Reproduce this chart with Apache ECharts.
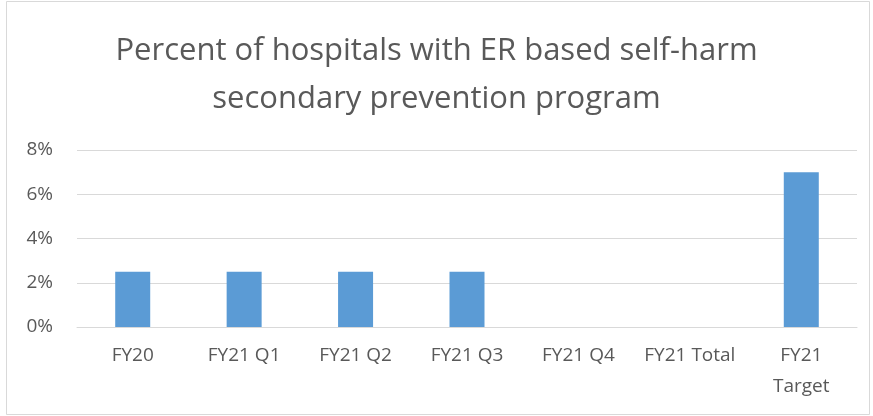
<!DOCTYPE html>
<html>
<head>
<meta charset="utf-8">
<script src="https://cdn.jsdelivr.net/npm/echarts@6/dist/echarts.min.js"></script>
<style>
  html, body { margin: 0; padding: 0; background: #fff; }
  #main { width: 873px; height: 416px; }
</style>
</head>
<body>
<div id="main"></div>
<script>
const categories = ['FY20', 'FY21 Q1', 'FY21 Q2', 'FY21 Q3', 'FY21 Q4', 'FY21 Total', 'FY21\nTarget'];
const values = [0.025, 0.025, 0.025, 0.025, null, null, 0.07];
const yTicks = [0, 0.02, 0.04, 0.06, 0.08];

const chart = echarts.init(document.getElementById('main'), null, { renderer: 'canvas' });

const option = {
  backgroundColor: '#fff',
  animation: false,
  title: {
    text: 'Percent of hospitals with ER based self-harm\nsecondary prevention program',
    left: 'center',
    top: 22,
    textStyle: {
      fontFamily: 'Open Sans',
      fontWeight: 'normal',
      fontSize: 31,
      lineHeight: 48,
      color: '#595959'
    }
  },
  graphic: [{
    type: 'rect',
    shape: { x: 6.5, y: 1.5, width: 863, height: 413 },
    style: { fill: 'none', stroke: '#d9d9d9', lineWidth: 1 },
    silent: true
  }],
  grid: {
    left: 77,
    right: 16,
    top: 150,
    bottom: 89
  },
  xAxis: {
    type: 'category',
    data: categories,
    axisTick: { show: false },
    axisLine: { lineStyle: { color: '#d9d9d9', width: 1 } },
    axisLabel: {
      fontFamily: 'Open Sans',
      fontSize: 19,
      color: '#595959',
      margin: 13,
      lineHeight: 31,
      interval: 0
    }
  },
  yAxis: {
    type: 'value',
    min: yTicks[0],
    max: yTicks[yTicks.length - 1],
    interval: 0.02,
    axisLine: { show: false },
    axisTick: { show: false },
    splitLine: { lineStyle: { color: '#d9d9d9', width: 1 } },
    axisLabel: {
      fontFamily: 'Open Sans',
      fontSize: 19,
      color: '#595959',
      margin: 24,
      formatter: function (v) { return Math.round(v * 100) + '%'; }
    }
  },
  series: [{
    type: 'bar',
    data: values,
    barWidth: 35,
    itemStyle: { color: '#5b9bd5' }
  }]
};

chart.setOption(option);
</script>
</body>
</html>
